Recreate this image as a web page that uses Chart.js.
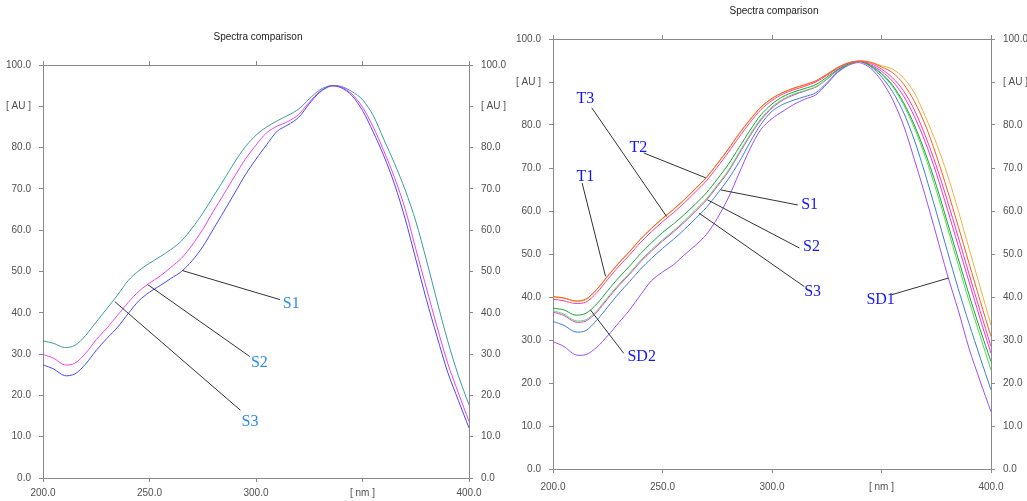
<!DOCTYPE html>
<html><head><meta charset="utf-8">
<script src="https://cdn.jsdelivr.net/npm/chart.js@4"></script>
<style>
html,body{margin:0;padding:0;background:#fff;width:1027px;height:501px;overflow:hidden}
#c1{position:absolute;left:0;top:0}
#c2{position:absolute;left:510px;top:0}
</style></head>
<body>
<canvas id="c1" width="510" height="501"></canvas>
<canvas id="c2" width="517" height="501"></canvas>
<script>
// ---------- data ----------
const wavelengths = [200,205,210,215,220,225,230,235,240,245,250,255,260,265,270,275,280,285,290,295,300,305,310,315,320,325,330,335,340,345,350,355,360,365,370,375,380,385,390,395,400];
const xTickLabels = {200:'200.0',250:'250.0',300:'300.0',350:'[ nm ]',400:'400.0'};
const yTickLabels = {0:'0.0',10:'10.0',20:'20.0',30:'30.0',40:'40.0',50:'50.0',60:'60.0',70:'70.0',80:'80.0',90:'[ AU ]',100:'100.0'};
const chartTitle = 'Spectra comparison';

// left panel
const leftS3 = [33.2,32.6,31.6,32.1,34.5,37.8,41.0,44.3,47.8,50.2,52.0,53.6,55.3,57.4,60.5,64.1,68.2,72.3,76.5,80.2,83.0,85.0,86.5,87.8,89.3,91.8,94.0,95.0,94.8,93.6,91.6,87.8,82.0,76.2,69.8,62.2,52.8,42.8,33.2,24.8,17.7];
const leftS2 = [29.9,29.0,27.4,27.8,30.2,33.5,36.3,39.4,42.5,45.2,47.2,48.9,51.0,53.2,56.4,60.2,64.6,68.8,73.1,77.2,80.6,83.6,85.2,86.3,88.0,91.0,93.6,94.9,94.7,93.0,89.8,85.0,79.2,72.8,65.2,55.5,46.0,36.6,27.8,20.6,13.7];
const leftS1 = [27.4,26.4,24.8,25.2,27.6,30.9,33.8,36.5,39.8,42.9,45.0,46.6,48.3,50.0,52.6,56.0,60.3,64.6,69.0,73.4,77.2,80.7,84.0,85.5,87.3,90.6,93.4,94.9,94.5,92.6,89.0,83.8,78.0,71.2,62.8,53.0,43.2,34.2,25.6,18.8,12.1];
const leftLabelNames = ['S1','S2','S3'];
const leftLabelNm = [312.6,297.6,293.2];
const leftLabelAU = [42.2,27.9,13.7];
const leftLeaderFromNm = [265.6,249.2,233.7];
const leftLeaderFromAU = [50.2,46.8,42.7];
const leftLeaderToNm = [311.2,297.1,292.7];
const leftLeaderToAU = [43.2,29.4,16.4];

// right panel
const rightOrange = [40.1,39.8,39.1,39.5,41.8,44.9,47.9,50.6,53.5,56.0,58.3,60.4,62.7,65.2,67.8,71.0,74.4,78.0,81.3,84.2,86.2,87.6,88.6,89.4,90.3,91.8,93.4,94.5,94.9,94.6,93.5,92.2,89.6,85.5,80.0,73.0,65.0,56.5,47.8,39.2,30.8];
const rightGold   = [40.0,39.7,39.0,39.4,41.7,44.8,47.8,50.5,53.4,55.9,58.2,60.3,62.6,65.1,67.7,70.9,74.3,77.9,81.2,84.1,86.1,87.5,88.5,89.3,90.2,91.7,93.3,94.4,94.9,94.6,93.8,93.0,91.0,87.5,82.0,75.8,68.6,60.2,51.2,42.4,33.5];
const rightPink   = [39.5,39.1,38.5,38.8,41.0,44.1,47.1,49.8,52.7,55.2,57.5,59.6,61.9,64.4,67.0,70.2,73.6,77.2,80.6,83.6,85.7,87.2,88.2,89.0,90.0,91.5,93.2,94.4,94.8,94.3,93.0,91.0,88.0,83.5,77.5,70.5,62.5,54.0,45.3,36.8,28.5];
const rightGreen  = [37.4,37.0,35.8,36.2,38.4,41.5,44.5,47.2,50.1,52.6,55.0,57.0,59.2,61.6,64.2,67.4,70.8,74.8,78.8,82.4,84.9,86.6,87.7,88.5,89.4,91.1,92.9,94.2,94.8,93.8,92.0,89.3,85.3,80.0,73.5,66.0,57.5,49.0,40.5,32.5,25.0];
const rightMagenta= [36.5,35.7,34.2,34.4,36.5,39.6,42.6,45.3,48.2,50.7,53.0,55.1,57.4,59.9,62.5,65.7,69.1,73.3,77.5,81.2,83.9,85.8,87.0,87.9,88.8,90.6,92.7,94.1,94.8,94.0,92.5,90.2,86.8,82.0,76.0,68.8,60.5,52.0,43.5,35.0,26.9];
const rightLime   = [36.8,36.0,34.5,34.7,36.8,39.9,42.9,45.6,48.5,51.0,53.3,55.4,57.7,60.2,62.8,66.0,69.4,73.6,77.8,81.5,84.2,86.0,87.2,88.0,88.9,90.7,92.8,94.1,94.8,93.7,91.8,89.0,84.8,79.3,72.6,64.8,56.3,47.6,39.0,31.0,23.0];
const rightBlue   = [34.3,33.4,31.9,32.2,34.6,37.7,40.8,43.6,46.5,49.0,51.3,53.4,55.7,58.2,60.8,64.0,67.4,71.4,76.0,80.2,83.2,84.8,85.8,86.6,87.5,89.8,92.4,94.0,94.8,93.6,91.2,87.8,83.0,76.5,68.5,59.8,50.8,42.0,33.8,26.0,18.4];
const rightPurple = [29.6,28.5,26.6,26.6,28.3,31.0,34.0,37.0,40.5,43.8,45.8,47.5,49.8,52.0,54.5,58.3,63.0,68.8,74.5,79.0,81.5,83.2,84.8,86.0,87.0,89.5,92.2,93.9,94.5,93.2,90.3,86.0,80.0,72.0,63.5,54.5,45.3,37.0,28.0,20.5,13.3];
const rightLabelNames = ['T3','T2','T1','S1','S2','S3','SD1','SD2'];
const rightLabelNm = [210.7,234.9,210.7,313.3,314.2,314.7,343.1,234.0];
const rightLabelAU = [86.1,74.7,68.0,61.4,51.7,41.2,39.3,26.1];
const rightLeaderFromNm = [217.7,241.4,213.3,276.6,270.5,266.7,354.5,217.1];
const rightLeaderFromAU = [84.0,73.5,66.5,64.9,62.6,59.5,40.5,37.0];
const rightLeaderToNm = [251.9,269.8,224.0,311.8,312.5,314.8,380.5,232.3];
const rightLeaderToAU = [58.7,67.7,44.8,61.4,51.4,42.4,44.4,26.9];

// ---------- drawing ----------
const AXFONT = "'Liberation Sans Narrow','Liberation Sans',Arial,sans-serif";
const AXCOL = '#8a8a8a';
const TXTCOL = '#505050';

function series(vals, color){
  return {type:'line', data: wavelengths.map((w,i)=>({x:w,y:vals[i]})), borderColor:color, borderWidth:1,
    pointRadius:0, tension:0.3, fill:false};
}
function leaders(fx,fy,tx,ty){
  return fx.map((v,i)=>({type:'line', data:[{x:fx[i],y:fy[i]},{x:tx[i],y:ty[i]}], borderColor:'#333',
    borderWidth:1, pointRadius:0, tension:0, fill:false}));
}
function scales(L,R,T,B,xPad){
  const grid = {drawOnChartArea:false, drawTicks:true, tickLength:4, color:AXCOL};
  const border = {display:true, color:AXCOL, width:1};
  const tf = {family:AXFONT, size:10};
  return {
    x:{type:'linear', position:'bottom', min:200, max:400, grid, border,
       ticks:{stepSize:50, color:TXTCOL, font:tf, maxRotation:0, padding:xPad, callback:v=>xTickLabels[v]??''},
       afterFit:s=>{s.height=B;}},
    x2:{type:'linear', position:'top', min:200, max:400, grid, border,
       ticks:{stepSize:50, display:false}, afterFit:s=>{s.height=T;}},
    y:{type:'linear', position:'left', min:0, max:100, grid, border,
       ticks:{stepSize:10, color:TXTCOL, font:tf, padding:8, callback:v=>yTickLabels[v]??''},
       afterFit:s=>{s.width=L;}},
    y2:{type:'linear', position:'right', min:0, max:100, grid, border,
       ticks:{stepSize:10, color:TXTCOL, font:tf, padding:8, callback:v=>yTickLabels[v]??''},
       afterFit:s=>{s.width=R;}}
  };
}
const textPlugin = {id:'txt', afterDatasetsDraw(chart,args,o){
  const {ctx,chartArea,scales:s} = chart;
  ctx.save();
  ctx.fillStyle='#222'; ctx.font='10px '+AXFONT; ctx.textAlign='center'; ctx.textBaseline='middle';
  ctx.fillText(chartTitle,(chartArea.left+chartArea.right)/2+2, chartArea.top-28);
  ctx.font='16px "Liberation Serif","Times New Roman",serif'; ctx.fillStyle=o.color; ctx.textAlign='left';
  o.names.forEach((n,i)=>ctx.fillText(n, s.x.getPixelForValue(o.nm[i]), s.y.getPixelForValue(o.au[i])));
  ctx.restore();
}};
function make(id, datasets, sc, txt){
  new Chart(document.getElementById(id), {
    data:{datasets},
    options:{responsive:false, animation:false, events:[], layout:{padding:0},
      plugins:{legend:{display:false}, tooltip:{enabled:false}, title:{display:false}, txt},
      scales:sc},
    plugins:[textPlugin]
  });
}
make('c1', [
  ...leaders(leftLeaderFromNm,leftLeaderFromAU,leftLeaderToNm,leftLeaderToAU),
  series(leftS1,'#4646ff'), series(leftS2,'#f040f0'), series(leftS3,'#3a9c9c')
], scales(43,41,65,23,5), {color:'#2a8cf0', names:leftLabelNames, nm:leftLabelNm, au:leftLabelAU});

make('c2', [
  ...leaders(rightLeaderFromNm,rightLeaderFromAU,rightLeaderToNm,rightLeaderToAU),
  series(rightOrange,'#ff5a1e'), series(rightPink,'#ff3a9a'), series(rightGold,'#e8b43a'),
  series(rightGreen,'#1e9e3c'), series(rightLime,'#48e048'), series(rightMagenta,'#f030f0'),
  series(rightBlue,'#3c7ed6'), series(rightPurple,'#9a4cff')
], scales(43,36,39,32,8), {color:'#1414ff', names:rightLabelNames, nm:rightLabelNm, au:rightLabelAU});
</script>
</body></html>
